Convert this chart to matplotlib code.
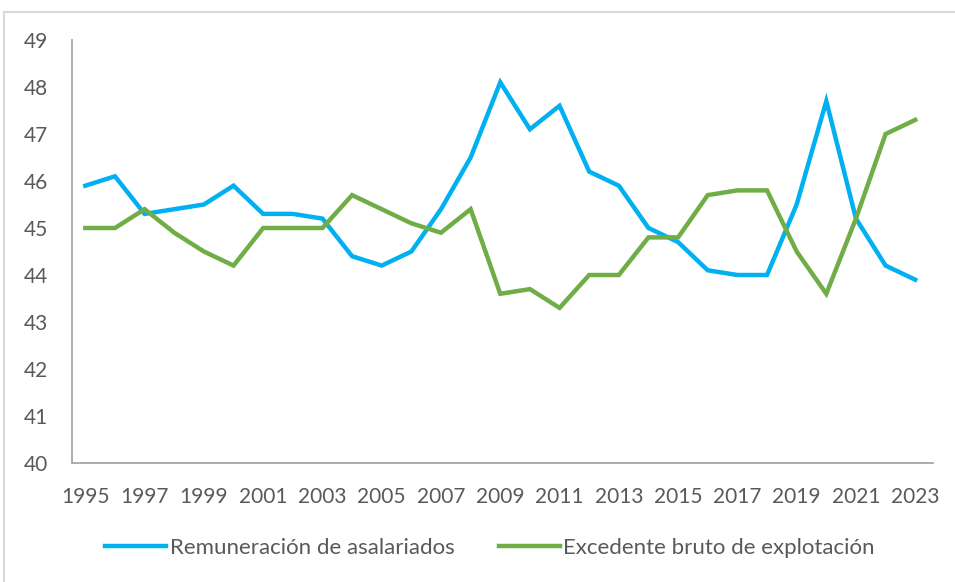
import matplotlib.pyplot as plt
from matplotlib.patches import Rectangle

plt.rcParams['font.family'] = ['Lato', 'DejaVu Sans']

years = list(range(1995, 2024))
remuneracion = [45.9, 46.1, 45.3, 45.4, 45.5, 45.9, 45.3, 45.3, 45.2, 44.4,
                44.2, 44.5, 45.4, 46.5, 48.1, 47.1, 47.6, 46.2, 45.9, 45.0,
                44.7, 44.1, 44.0, 44.0, 45.5, 47.7, 45.2, 44.2, 43.9]
excedente = [45.0, 45.0, 45.4, 44.9, 44.5, 44.2, 45.0, 45.0, 45.0, 45.7,
             45.4, 45.1, 44.9, 45.4, 43.6, 43.7, 43.3, 44.0, 44.0, 44.8,
             44.8, 45.7, 45.8, 45.8, 44.5, 43.6, 45.2, 47.0, 47.3]
yticks = list(range(40, 50))
xticks = years[::2]

gray = '#595959'
fig = plt.figure(figsize=(9.55, 5.82), dpi=100)
# outer chart frame (partly cropped in the original screenshot)
fig.patches.append(Rectangle((4 / 955, -0.1), 1.2, 1.1 - 12 / 582, transform=fig.transFigure,
                             fill=False, edgecolor='#d9d9d9', linewidth=1.5))

ax = fig.add_axes([72 / 955, 1 - 463 / 582, (933 - 72) / 955, (463 - 40) / 582])
ax.plot(years, remuneracion, color='#00B0F0', lw=3.2, label='Remuneración de asalariados',
        solid_joinstyle='miter')
ax.plot(years, excedente, color='#70AD47', lw=3.2, label='Excedente bruto de explotación',
        solid_joinstyle='miter')

ax.set_ylim(40, 49)
ax.set_xlim(1994.55, 2023.6)
ax.set_yticks(yticks)
ax.set_xticks(xticks)
ax.tick_params(length=0, labelsize=15, colors=gray)
ax.tick_params(axis='x', pad=17)
ax.tick_params(axis='y', pad=17)
for s in ['top', 'right']:
    ax.spines[s].set_visible(False)
for s in ['left', 'bottom']:
    ax.spines[s].set_color('#a6a6a6')
    ax.spines[s].set_linewidth(1.3)

fig.legend(loc='center', bbox_to_anchor=(0.513, 1 - 548 / 582), ncol=2, frameon=False,
           fontsize=16, labelcolor=gray, handlelength=2.75, handletextpad=0.15, columnspacing=2.0)

fig.savefig('out.png', dpi=100)
